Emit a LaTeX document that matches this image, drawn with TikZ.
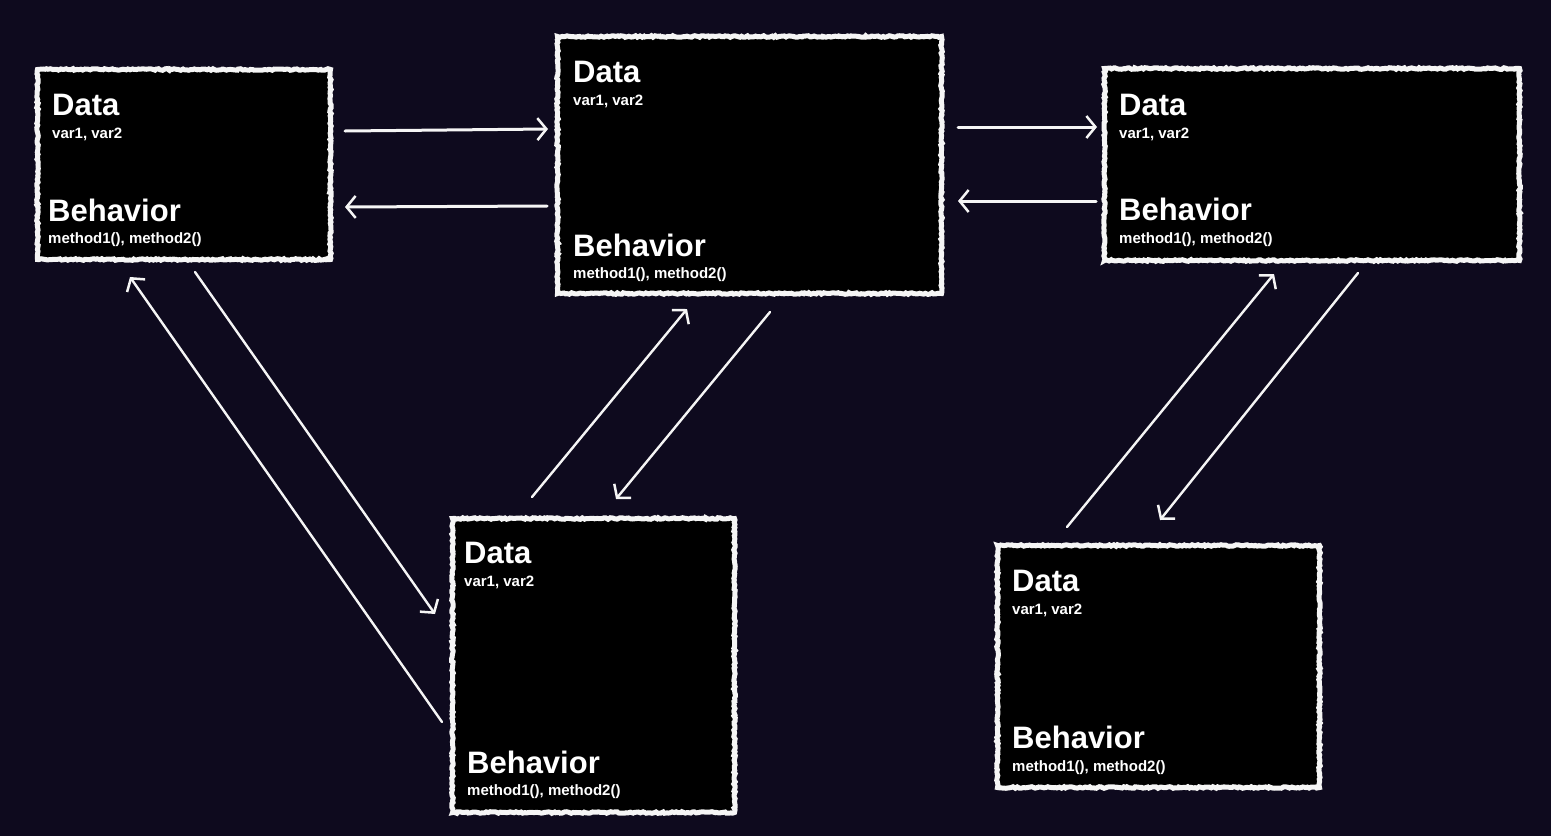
\documentclass[tikz,border=0pt]{standalone}
\usepackage{fontspec}
\setmainfont{Liberation Sans}
\usetikzlibrary{arrows.meta,decorations.pathmorphing}
\definecolor{bg}{RGB}{14,10,30}
\definecolor{chalk}{RGB}{245,245,245}
\tikzset{
  box/.style={rectangle, fill=black, draw=chalk, line width=5pt, inner sep=0pt,
    decorate, decoration={random steps, segment length=2pt, amplitude=0.8pt}},
  big/.style={anchor=base west, inner sep=0pt, text=white, font=\fontsize{31}{31}\selectfont\bfseries},
  small/.style={anchor=base west, inner sep=0pt, text=white, font=\fontsize{15}{15}\selectfont\bfseries},
  conn/.style={draw=chalk, line width=3pt, line cap=round,
    -{Straight Barb[length=9pt, width=22pt, line width=2.5pt]}},
  connthin/.style={conn, line width=2.4pt}
}
\begin{document}
\begin{tikzpicture}[x=1pt, y=-1pt]
\fill[bg] (0,0) rectangle (1551,836);
\useasboundingbox (0,0) rectangle (1551,836);
% boxes
\node[box, minimum width=293pt, minimum height=190pt] (A) at (184,164.5) {};
\node[box, minimum width=384pt, minimum height=257pt] (B) at (749.5,165) {};
\node[box, minimum width=415pt, minimum height=192pt] (C) at (1312,164.5) {};
\node[box, minimum width=282pt, minimum height=294pt] (D) at (593.5,665.5) {};
\node[box, minimum width=322pt, minimum height=242pt] (E) at (1158.5,666.5) {};
% texts
\node[big] (Ad) at (52,115) {Data};
\node[small] (Av) at (52,138) {var1, var2};
\node[big] (Ab) at (48,221) {Behavior};
\node[small] (Am) at (48,243) {method1(), method2()};
\node[big] (Bd) at (573,82) {Data};
\node[small] (Bv) at (573,105) {var1, var2};
\node[big] (Bb) at (573,256) {Behavior};
\node[small] (Bm) at (573,278) {method1(), method2()};
\node[big] (Cd) at (1119,115) {Data};
\node[small] (Cv) at (1119,138) {var1, var2};
\node[big] (Cb) at (1119,220) {Behavior};
\node[small] (Cm) at (1119,243) {method1(), method2()};
\node[big] (Dd) at (464,563) {Data};
\node[small] (Dv) at (464,586) {var1, var2};
\node[big] (Db) at (467,773) {Behavior};
\node[small] (Dm) at (467,795) {method1(), method2()};
\node[big] (Ed) at (1012,591) {Data};
\node[small] (Ev) at (1012,614) {var1, var2};
\node[big] (Eb) at (1012,748) {Behavior};
\node[small] (Em) at (1012,771) {method1(), method2()};
% connector end points
\coordinate (a1) at (345,131); \coordinate (b1) at (548,129);
\coordinate (b2) at (547,206); \coordinate (a2) at (345,207);
\coordinate (b3) at (958,127); \coordinate (c3) at (1097,127);
\coordinate (c4) at (1096,201); \coordinate (b4) at (958,201);
\coordinate (a5) at (195,272); \coordinate (d5) at (435,614);
\coordinate (d6) at (442,722); \coordinate (a6) at (130,277);
\coordinate (d7) at (532,497); \coordinate (b7) at (687,309);
\coordinate (b8) at (770,312); \coordinate (d8) at (616,499);
\coordinate (e9) at (1067,527); \coordinate (c9) at (1274,274);
\coordinate (c10) at (1358,273); \coordinate (e10) at (1160,520);
\draw[conn] (a1) -- (b1);
\draw[conn] (b2) -- (a2);
\draw[conn] (b3) -- (c3);
\draw[conn] (c4) -- (b4);
\draw[connthin] (a5) -- (d5);
\draw[connthin] (d6) -- (a6);
\draw[connthin] (d7) -- (b7);
\draw[connthin] (b8) -- (d8);
\draw[connthin] (e9) -- (c9);
\draw[connthin] (c10) -- (e10);
\end{tikzpicture}
\end{document}
